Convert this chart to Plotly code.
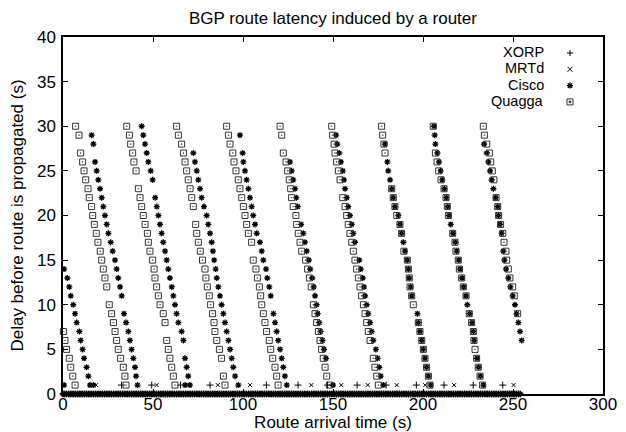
import plotly.graph_objects as go

# ---------------- data ----------------
X_TICKS = [0, 50, 100, 150, 200, 250, 300]
Y_TICKS = [0, 5, 10, 15, 20, 25, 30, 35, 40]
SERIES = ["XORP", "MRTd", "Cisco", "Quagga"]

# routes propagated with no delay (dense band along the x axis)
ZERO_DELAY_ARRIVALS = [
    0, 1, 2, 3, 4, 5, 6, 7, 8, 9, 10, 11, 12, 13, 14, 15, 16, 17, 18, 19,
    20, 21, 22, 23, 24, 25, 26, 27, 28, 29, 30, 31, 32, 33, 34, 35, 36, 37, 38, 39,
    40, 41, 42, 43, 44, 45, 46, 47, 48, 49, 50, 51, 52, 53, 54, 55, 56, 57, 58, 59,
    60, 61, 62, 63, 64, 65, 66, 67, 68, 69, 70, 71, 72, 73, 74, 75, 76, 77, 78, 79,
    80, 81, 82, 83, 84, 85, 86, 87, 88, 89, 90, 91, 92, 93, 94, 95, 96, 97, 98, 99,
    100, 101, 102, 103, 104, 105, 106, 107, 108, 109, 110, 111, 112, 113, 114, 115, 116, 117, 118, 119,
    120, 121, 122, 123, 124, 125, 126, 127, 128, 129, 130, 131, 132, 133, 134, 135, 136, 137, 138, 139,
    140, 141, 142, 143, 144, 145, 146, 147, 148, 149, 150, 151, 152, 153, 154, 155, 156, 157, 158, 159,
    160, 161, 162, 163, 164, 165, 166, 167, 168, 169, 170, 171, 172, 173, 174, 175, 176, 177, 178, 179,
    180, 181, 182, 183, 184, 185, 186, 187, 188, 189, 190, 191, 192, 193, 194, 195, 196, 197, 198, 199,
    200, 201, 202, 203, 204, 205, 206, 207, 208, 209, 210, 211, 212, 213, 214, 215, 216, 217, 218, 219,
    220, 221, 222, 223, 224, 225, 226, 227, 228, 229, 230, 231, 232, 233, 234, 235, 236, 237, 238, 239,
    240, 241, 242, 243, 244, 245, 246, 247, 248, 249, 250, 251, 252, 253, 254,
]
ZERO_DELAY = 0

XORP_T = [32.5, 49.3, 65.3, 81.7, 113.0, 130.6, 147.0, 163.4, 179.5, 196.3, 211.7, 227.9, 244.3]
XORP_D = [1, 1, 1, 1, 1, 1, 1, 1, 1, 1, 1, 1, 1]

MRTD_T = [18.4, 52.0, 86.0, 103.9, 138.0, 154.6, 169.3, 185.4, 201.2, 217.3, 250.3]
MRTD_D = [1, 1, 1, 1, 1, 1, 1, 1, 1, 1, 1]

CISCO_T = [
    0.6, 2.4, 3.5, 4.3, 5.7, 6.7, 7.6, 9.1, 9.8, 10.9, 11.7, 13.1, 14.1, 15.0, 0.6, 16.9,
    15.9, 16.9, 17.8, 18.7, 19.6, 20.6, 21.5, 22.4, 23.3, 24.3, 25.2, 26.5, 27.6, 28.9, 29.8, 30.7,
    31.7, 32.6, 33.9, 35.0, 36.3, 37.2, 38.1, 39.1, 40.0, 40.6, 41.4,
    43.7, 44.6, 45.6, 46.5, 47.4, 48.7, 49.8, 51.2, 52.1, 53.0, 53.9, 54.8, 55.7, 56.7, 57.6, 58.5,
    59.4, 60.4, 61.3, 62.2, 63.1, 64.1, 65.9, 66.9, 67.8, 68.7, 69.6, 70.5, 67.8,
    72.4, 73.3, 74.3, 75.2, 76.1, 77.0, 78.3, 79.8, 80.7, 81.7, 82.6, 83.3, 84.0, 84.8, 85.4, 86.3,
    87.2, 88.1, 89.1, 90.0, 90.9, 91.9, 92.8, 93.7, 94.6, 95.6, 97.4,
    98.3, 99.8, 100.2, 101.1, 102.0, 103.0, 103.9, 104.8, 105.7, 106.7, 107.6, 109.4, 110.4, 111.3,
    112.8, 113.5, 114.6, 115.4, 116.9, 117.8, 118.7, 119.6, 120.6, 121.5, 122.4, 123.3, 124.3,
    126.1, 127.0, 127.9, 128.9, 129.6, 130.4, 132.3, 133.5, 134.4, 135.4, 136.6, 137.4, 138.5, 139.3,
    140.0, 140.9, 141.5, 142.4, 143.1, 144.2, 145.0, 146.1, 150.0,
    151.7, 152.4, 153.5, 154.4, 155.4, 156.1, 156.7, 157.6, 158.5, 159.4, 160.4, 161.3, 162.2, 164.6,
    165.4, 166.5, 167.2, 167.8, 168.7, 169.6, 170.6, 171.5, 172.4, 173.8, 174.8, 175.7, 176.5, 177.9,
    178.9, 180.2, 180.7, 181.7, 182.6, 183.5, 184.4, 186.3, 187.2, 188.1, 189.1, 190.0, 191.3, 191.9,
    192.4, 193.1, 193.7, 196.9, 197.4, 198.3, 199.3, 200.2, 201.1, 202.0, 203.0, 204.3,
    206.1, 206.5, 206.9, 208.0, 208.9, 209.8, 210.7, 211.9, 213.0, 213.7, 214.4, 215.4, 216.7, 218.0,
    218.7, 219.8, 220.6, 221.7, 222.6, 223.9, 224.6, 225.9, 227.2, 228.0, 228.5, 230.0, 230.9, 231.9, 233.5,
    233.9, 235.4, 236.3, 237.2, 238.1, 239.1, 240.4, 241.5, 241.9, 242.8, 243.7, 244.6, 245.2, 246.1,
    247.4, 248.5, 249.8, 251.1, 252.0, 253.0, 253.9, 254.8,
]
CISCO_D = [
    14, 13, 12, 11, 10, 9, 8, 7, 6, 5, 4, 3, 2, 1, 1, 1,
    29, 28, 26, 25, 24, 23, 22, 21, 20, 19, 18, 17, 16, 15, 14, 13,
    12, 11, 9, 8, 7, 6, 5, 4, 3, 2, 1,
    30, 29, 28, 27, 26, 25, 24, 22, 21, 20, 19, 18, 17, 16, 15, 14,
    13, 12, 11, 10, 9, 8, 7, 6, 4, 3, 2, 1, 1,
    27, 26, 25, 24, 23, 22, 21, 20, 19, 18, 17, 16, 15, 14, 13, 12,
    11, 10, 9, 8, 7, 6, 5, 4, 3, 2, 1,
    29, 27, 26, 25, 24, 23, 22, 21, 20, 19, 18, 17, 16, 15,
    14, 13, 12, 11, 9, 8, 7, 6, 5, 4, 3, 2, 1,
    26, 25, 24, 23, 22, 21, 19, 18, 17, 16, 15, 14, 13, 12,
    11, 10, 9, 8, 7, 6, 5, 4, 1,
    29, 28, 27, 26, 25, 24, 23, 22, 21, 20, 19, 18, 17, 15,
    14, 13, 12, 11, 10, 9, 8, 7, 6, 5, 4, 3, 2, 1,
    28, 26, 25, 24, 23, 22, 21, 20, 19, 18, 17, 16, 15, 14,
    13, 12, 11, 9, 8, 7, 6, 5, 4, 3, 2, 1,
    30, 29, 28, 27, 26, 25, 24, 23, 22, 21, 20, 19, 18, 17,
    16, 15, 14, 13, 12, 11, 10, 9, 8, 7, 6, 4, 3, 2, 1,
    28, 27, 26, 25, 24, 23, 22, 21, 20, 19, 18, 16, 15, 14,
    13, 12, 11, 10, 9, 8, 7, 6,
]

QUAGGA_T = [
    0.2, 1.1, 2.0, 3.5, 4.3, 5.4, 6.7,
    7.0, 8.9, 9.8, 10.9, 11.7, 12.6, 13.9, 14.6, 15.9, 16.5, 17.4, 18.5, 19.4, 20.7,
    21.5, 22.4, 23.3, 24.3, 25.7, 27.0, 28.0, 28.9, 29.8, 30.7, 32.0, 33.5, 34.4, 35.0,
    35.4, 36.9, 37.6, 38.7, 39.4, 40.6, 41.9, 42.8, 43.7, 44.6, 45.6, 46.9, 47.4, 48.3,
    49.8, 50.6, 51.1, 52.0, 53.0, 53.9, 55.7, 56.7, 57.6, 58.5, 59.4, 60.4, 61.3, 62.2,
    63.1, 64.1, 65.9, 66.9, 67.8, 68.7, 69.6, 70.6, 71.5, 72.4, 73.7, 74.3, 75.2, 76.3,
    77.5, 78.9, 79.4, 80.2, 81.3, 82.0, 83.1, 83.9, 84.4, 85.4, 86.9, 88.1, 89.1, 90.0,
    90.9, 91.9, 92.8, 94.3, 95.0, 96.1, 97.4, 98.3, 99.3, 100.2, 101.1, 102.0, 103.0, 104.8,
    105.7, 107.2, 108.0, 109.1, 109.8, 110.4, 111.3, 112.2, 113.1, 114.6, 115.4, 116.5, 117.8, 118.7, 119.5,
    120.6, 121.5, 122.4, 123.9, 124.8, 125.7, 126.5, 127.0, 127.9, 129.4, 129.8, 130.7, 131.7, 132.6,
    134.8, 135.9, 136.9, 137.9, 139.1, 140.0, 140.9, 141.9, 142.8, 143.7, 144.6, 145.6, 146.5, 148.0,
    149.3, 149.8, 150.6, 151.1, 152.0, 153.0, 153.9, 155.4, 156.7, 157.6, 158.5, 159.4, 160.4, 161.3,
    162.2, 163.1, 164.1, 165.0, 165.9, 166.9, 167.8, 168.7, 169.6, 170.6, 172.4, 173.3, 174.3, 175.2,
    177.0, 177.6, 178.3, 178.9, 182.6, 183.5, 184.4, 185.4, 187.2, 188.1, 189.4, 191.3, 191.9,
    192.4, 192.8, 193.7, 194.6, 197.4, 198.3, 199.3, 200.2, 201.1, 202.0, 203.0, 203.9,
    205.7, 206.9, 207.8, 208.7, 210.0, 211.7, 212.8, 213.5, 214.1, 216.5, 217.8, 218.3, 219.6,
    220.2, 221.5, 222.4, 223.9, 225.7, 227.0, 228.0, 228.3, 228.9, 229.8, 230.7, 231.7, 233.1,
    233.5, 234.1, 235.4, 236.9, 237.6, 238.5, 239.4, 240.6, 241.5, 242.0, 243.1, 244.3, 245.0,
    246.1, 246.5, 247.4, 248.3, 249.8, 250.7, 252.6,
]
QUAGGA_D = [
    7, 6, 5, 4, 3, 2, 1,
    30, 29, 27, 26, 25, 24, 23, 22, 21, 20, 19, 18, 17, 16,
    15, 14, 13, 12, 10, 9, 8, 7, 6, 5, 4, 3, 2, 1,
    30, 29, 28, 27, 26, 25, 23, 22, 21, 20, 19, 18, 17, 16,
    15, 14, 13, 12, 11, 10, 9, 8, 6, 5, 4, 3, 2, 1,
    30, 29, 28, 27, 26, 25, 24, 23, 22, 21, 19, 18, 17, 16,
    15, 14, 13, 12, 11, 10, 9, 8, 7, 6, 5, 4, 2, 1,
    30, 29, 28, 27, 26, 25, 24, 23, 22, 21, 20, 19, 18, 17,
    15, 14, 13, 12, 11, 10, 9, 8, 7, 6, 5, 4, 3, 2, 1,
    30, 29, 27, 26, 25, 24, 23, 22, 21, 20, 19, 18, 17, 16,
    15, 14, 13, 12, 10, 9, 8, 7, 6, 5, 4, 3, 2, 1,
    30, 29, 28, 27, 26, 25, 24, 22, 21, 20, 19, 18, 17, 16,
    15, 14, 13, 12, 11, 10, 9, 8, 7, 6, 4, 3, 2, 1,
    30, 29, 28, 27, 23, 22, 21, 20, 19, 18, 16, 15, 14,
    13, 12, 11, 10, 8, 7, 6, 5, 4, 3, 2, 1,
    30, 27, 26, 25, 24, 23, 22, 21, 20, 18, 17, 16, 15,
    14, 13, 12, 11, 9, 8, 7, 6, 5, 4, 3, 2, 1,
    30, 29, 28, 27, 26, 25, 24, 22, 21, 20, 19, 18, 17,
    16, 15, 14, 13, 12, 11, 9,
]

# ---------------- figure ----------------
FONT = "Liberation Sans, Arial, Helvetica, sans-serif"
INK = "black"
SQ_INK = "#333333"

fig = go.Figure()
ZEROS = [ZERO_DELAY] * len(ZERO_DELAY_ARRIVALS)


def add_series(x, y, symbol, size, lw, color):
    fig.add_trace(go.Scatter(
        x=x, y=y, mode="markers", cliponaxis=False, hoverinfo="skip", showlegend=False,
        marker=dict(symbol=symbol, size=size, color=color, line=dict(width=lw, color=color)),
    ))


add_series(XORP_T + ZERO_DELAY_ARRIVALS, XORP_D + ZEROS, "cross-thin", 5, 1, INK)
add_series(MRTD_T + ZERO_DELAY_ARRIVALS, MRTD_D + ZEROS, "x-thin", 4, 1, INK)
add_series(CISCO_T + ZERO_DELAY_ARRIVALS, CISCO_D + ZEROS, "asterisk-open", 5, 1.3, INK)
add_series(QUAGGA_T, QUAGGA_D, "square-open-dot", 6, 1, SQ_INK)

axis_common = dict(
    showline=True, linecolor=INK, linewidth=1.5, mirror="ticks",
    ticks="inside", ticklen=5, tickwidth=1, tickcolor=INK,
    showgrid=False, zeroline=False, automargin=False,
    tickfont=dict(family=FONT, size=17, color=INK),
)
fig.update_xaxes(range=[0, 300], tickvals=X_TICKS, ticktext=[str(v) for v in X_TICKS],
                 ticklabelstandoff=-6,
                 title=dict(text="Route arrival time (s)", font=dict(family=FONT, size=17, color=INK),
                            standoff=10),
                 **axis_common)
fig.update_yaxes(range=[0, 40], tickvals=Y_TICKS, ticktext=[str(v) for v in Y_TICKS],
                 ticklabelstandoff=2,
                 title=dict(text="Delay before route is propagated (s)",
                            font=dict(family=FONT, size=17, color=INK), standoff=9),
                 **axis_common)

# legend (gnuplot style: label on the left, sample on the right)
LEG_X_TEXT = (545 - 63) / 540
LEG_X_SYM = (570 - 63) / 540
LEG_TEXT_ROWS = [(394 - yp) / 357 for yp in (52, 68.3, 84.6, 100.9)]
LEG_SYM_ROWS = [(394 - yp) / 357 for yp in (53, 69.3, 85.6, 101.9)]
annotations = []
shapes = []
for name, yr in zip(SERIES, LEG_TEXT_ROWS):
    annotations.append(dict(text=name, xref="paper", yref="paper", x=LEG_X_TEXT, y=yr,
                            xanchor="right", yanchor="middle", showarrow=False,
                            borderpad=0,
                            font=dict(family=FONT, size=14.5, color=INK)))
sym_paths = {
    "XORP": ["M-3,0H3M0,-3V3"],
    "MRTd": ["M-2.5,-2.5L2.5,2.5M-2.5,2.5L2.5,-2.5"],
    "Cisco": ["M-3,0H3M0,-3V3M-2.2,-2.2L2.2,2.2M-2.2,2.2L2.2,-2.2"],
    "Quagga": ["M-3,-3H3V3H-3Z", "M-0.8,-0.8H0.8V0.8H-0.8Z"],
}
for name, yr in zip(SERIES, LEG_SYM_ROWS):
    for i, p in enumerate(sym_paths[name]):
        filled = name == "Quagga" and i == 1
        shapes.append(dict(type="path", path=p, xref="paper", yref="paper",
                           xsizemode="pixel", ysizemode="pixel", xanchor=LEG_X_SYM, yanchor=yr,
                           line=dict(color=INK if name != "Quagga" else SQ_INK,
                                     width=1.3 if name == "Cisco" else 1),
                           fillcolor=SQ_INK if filled else "rgba(0,0,0,0)"))

fig.update_layout(
    width=626, height=432,
    margin=dict(l=63, r=23, t=37, b=38, autoexpand=False),
    paper_bgcolor="white", plot_bgcolor="white",
    font=dict(family=FONT, size=17, color=INK),
    title=dict(text="BGP route latency induced by a router", x=0.5, xref="paper", xanchor="center",
               y=1 - 18 / 432, yref="container", yanchor="middle",
               font=dict(family=FONT, size=17, color=INK)),
    annotations=annotations, shapes=shapes,
    showlegend=False,
)

fig.write_html("out.html")
